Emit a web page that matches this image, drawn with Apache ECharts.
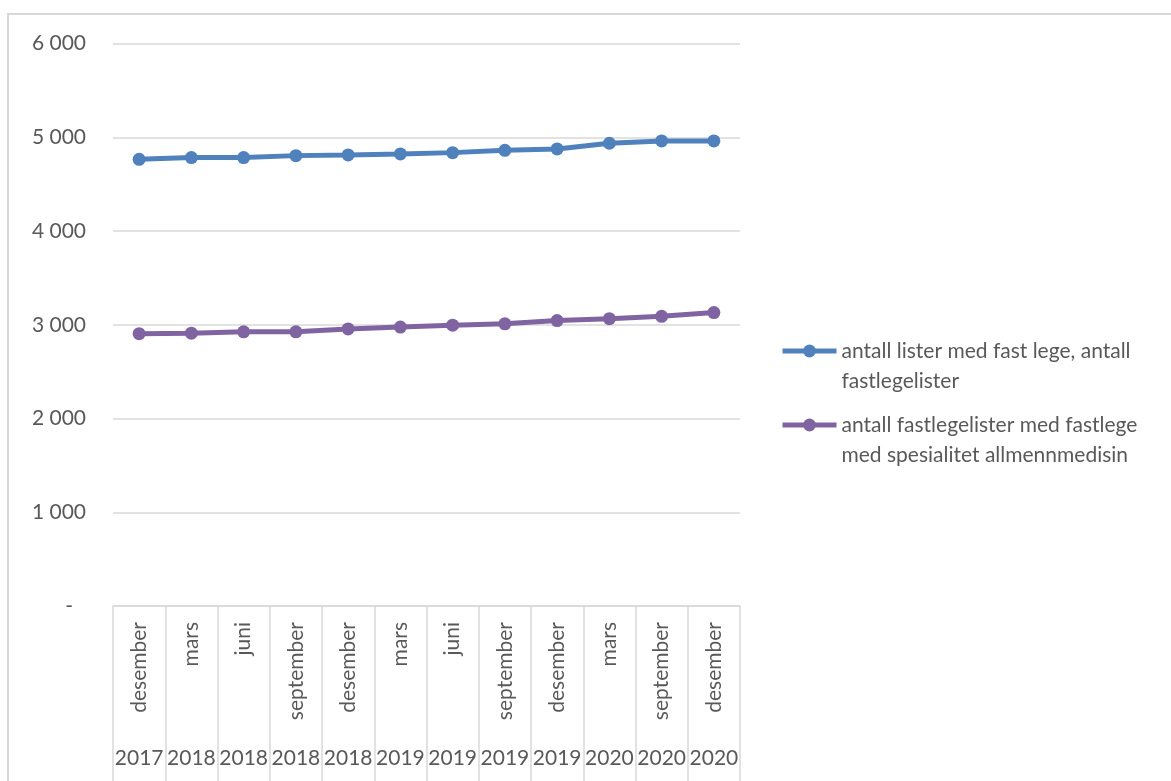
<!DOCTYPE html>
<html>
<head>
<meta charset="utf-8">
<script src="https://cdn.jsdelivr.net/npm/echarts@6/dist/echarts.min.js"></script>
<style>
  html, body { margin: 0; padding: 0; background: #ffffff; }
  #chart { width: 1171px; height: 781px; }
</style>
</head>
<body>
<div id="chart"></div>
<script>
// ---- data ----
const months = ['desember', 'mars', 'juni', 'september', 'desember', 'mars', 'juni', 'september', 'desember', 'mars', 'september', 'desember'];
const years = ['2017', '2018', '2018', '2018', '2018', '2019', '2019', '2019', '2019', '2020', '2020', '2020'];
const seriesNames = ['antall lister med fast lege, antall fastlegelister', 'antall fastlegelister med fastlege med spesialitet allmennmedisin'];
const legendLabels = ['antall lister med fast lege, antall\nfastlegelister', 'antall fastlegelister med fastlege\nmed spesialitet allmennmedisin'];
const listerFastLege = [4765, 4783, 4783, 4804, 4811, 4822, 4836, 4861, 4875, 4936, 4961, 4961];
const listerAllmenn = [2905, 2910, 2925, 2925, 2955, 2975, 2995, 3010, 3045, 3065, 3090, 3130];
const yTicks = [0, 1000, 2000, 3000, 4000, 5000, 6000];

// ---- chart ----
const FONT = 'Lato';
const TXT = '#595959';
const GRID = '#d9d9d9';
const chart = echarts.init(document.getElementById('chart'), null, { renderer: 'canvas' });

function fmt(v) {
  if (v === 0) return '{z|-}';
  return String(v).replace(/\B(?=(\d{3})+(?!\d))/g, ' ');
}

const legendCommon = {
  orient: 'vertical',
  left: 780,
  padding: 0,
  itemWidth: 54,
  itemHeight: 16,
  itemGap: 0,
  lineStyle: { width: 5 },
  textStyle: { fontFamily: FONT, fontSize: 21, color: TXT, lineHeight: 30 },
  // leading blank line keeps the first text line level with the icon
  formatter: function (name) { return '\n' + legendLabels[seriesNames.indexOf(name)]; }
};

chart.setOption({
  animation: false,
  backgroundColor: '#ffffff',
  graphic: [{
    type: 'rect',
    shape: { x: 8, y: 14, width: 1300, height: 900 },
    style: { fill: 'none', stroke: GRID, lineWidth: 2 },
    silent: true,
    z: -10
  }],
  legend: [
    Object.assign({}, legendCommon, { top: 306, data: [seriesNames[0]] }),
    Object.assign({}, legendCommon, { top: 380, data: [seriesNames[1]] })
  ],
  grid: { left: 113, right: 431, top: 43.5, bottom: 175, containLabel: false },
  xAxis: [{
    type: 'category',
    data: months,
    boundaryGap: true,
    position: 'bottom',
    axisLine: { show: true, lineStyle: { color: GRID, width: 1.5 } },
    axisTick: { show: true, interval: 0, length: 180, lineStyle: { color: GRID, width: 1.5 } },
    axisLabel: { interval: 0, rotate: 90, margin: 16, fontFamily: FONT, fontSize: 21, color: TXT }
  }, {
    type: 'category',
    data: years,
    boundaryGap: true,
    position: 'bottom',
    offset: 136,
    axisLine: { show: false },
    axisTick: { show: false },
    axisLabel: { interval: 0, margin: 6, fontFamily: FONT, fontSize: 21, color: TXT }
  }],
  yAxis: {
    type: 'value',
    min: 0,
    max: 6000,
    interval: 1000,
    axisLine: { show: false },
    axisTick: { show: false },
    splitLine: { show: true, lineStyle: { color: GRID, width: 1.5 } },
    axisLabel: {
      margin: 27,
      fontFamily: FONT,
      fontSize: 21,
      color: TXT,
      formatter: fmt,
      rich: { z: { fontFamily: FONT, fontSize: 21, color: TXT, padding: [0, 13, 0, 0] } }
    }
  },
  series: [{
    name: seriesNames[0],
    type: 'line',
    data: listerFastLege,
    symbol: 'circle',
    symbolSize: 13,
    lineStyle: { color: '#4f81bd', width: 5 },
    itemStyle: { color: '#4f81bd' }
  }, {
    name: seriesNames[1],
    type: 'line',
    data: listerAllmenn,
    symbol: 'circle',
    symbolSize: 13,
    lineStyle: { color: '#8064a2', width: 5 },
    itemStyle: { color: '#8064a2' }
  }]
});
</script>
</body>
</html>
